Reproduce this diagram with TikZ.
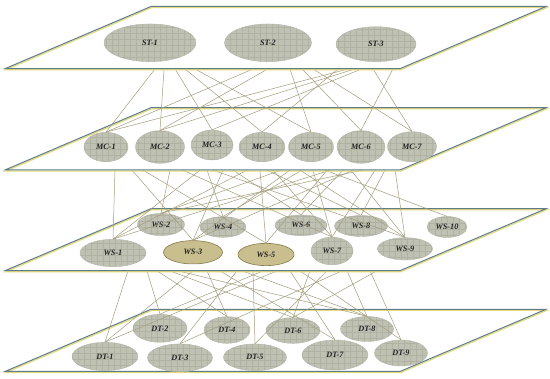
\documentclass[tikz,border=0pt]{standalone}
\usepackage{fontspec}
\setmainfont{Liberation Serif}
\usetikzlibrary{shapes.geometric}
\definecolor{ellfill}{HTML}{BFC1B3}
\definecolor{ellgrid}{HTML}{B0B2A4}
\definecolor{ellborder}{HTML}{B5B7A9}
\definecolor{olivefill}{HTML}{C9BF8E}
\definecolor{oliveborder}{HTML}{857A48}
\definecolor{edgeblue}{HTML}{5F7B8C}
\definecolor{edgeyellow}{HTML}{E3DC7A}
\definecolor{linkc}{HTML}{A39D7C}
\definecolor{labelc}{HTML}{222222}
\pgfdeclarelayer{p4}
\pgfdeclarelayer{k3}
\pgfdeclarelayer{p3}
\pgfdeclarelayer{k2}
\pgfdeclarelayer{p2}
\pgfdeclarelayer{k1}
\pgfdeclarelayer{p1}
\pgfsetlayers{p4,k3,p3,k2,p2,k1,p1,main}
\tikzset{
  ellbase/.style={ellipse, inner sep=0pt, text=labelc,
    font=\fontsize{8.2}{9}\selectfont\bfseries\itshape},
  ell/.style={ellbase, fill=ellfill, draw=ellborder, line width=0.4pt,
    path picture={\draw[ellgrid, line width=0.35pt]
      (path picture bounding box.south west) grid[step=6pt]
      (path picture bounding box.north east);}},
  oliveell/.style={ellbase, fill=olivefill, draw=oliveborder, line width=0.6pt},
  lnk/.style={draw=linkc, line width=0.5pt},
  planeblue/.style={draw=edgeblue, line width=1pt},
  planeyellow/.style={draw=edgeyellow, line width=1.2pt},
}
\newcommand\myplane[2]{%
  \fill[white] (5,#2) -- (400,#2) -- (546,#1) -- (151,#1) -- cycle;
  \draw[planeyellow, shift={(0.6,1.1)}] (5,#2) -- (400,#2) -- (546,#1) -- (151,#1) -- cycle;
  \draw[planeblue] (5,#2) -- (400,#2) -- (546,#1) -- (151,#1) -- cycle;}
\newcommand\mylink[3]{\draw[lnk] ([xshift=#2pt]#1.south) -- (#3.north);}
\begin{document}
\begin{tikzpicture}[x=1pt,y=-1pt]
\useasboundingbox (0,0) rectangle (550,379);
% ---------- bottom plane: DT ----------
\begin{pgfonlayer}{p4}
\fill[white] (0,0) rectangle (550,379);
\myplane{309.3}{371.5}
\node[ell, minimum width=66pt, minimum height=28.3pt] (dt1) at (105,356.5) {DT-1};
\node[ell, minimum width=54pt, minimum height=28pt] (dt2) at (160,328.3) {DT-2};
\node[ell, minimum width=65pt, minimum height=27.7pt] (dt3) at (180,357.8) {DT-3};
\node[ell, minimum width=46pt, minimum height=26.7pt] (dt4) at (227,330) {DT-4};
\node[ell, minimum width=63pt, minimum height=26.7pt] (dt5) at (255,357.3) {DT-5};
\node[ell, minimum width=54pt, minimum height=25.7pt] (dt6) at (293,330.5) {DT-6};
\node[ell, minimum width=66pt, minimum height=30pt] (dt7) at (335,355) {DT-7};
\node[ell, minimum width=53pt, minimum height=25pt] (dt8) at (367,329) {DT-8};
\node[ell, minimum width=53pt, minimum height=26pt] (dt9) at (401,353) {DT-9};
\end{pgfonlayer}
% ---------- plane: WS ----------
\begin{pgfonlayer}{p3}
\myplane{208.7}{270.7}
\node[ell, minimum width=66pt, minimum height=27.3pt] (ws1) at (113,253) {WS-1};
\node[ell, minimum width=47pt, minimum height=22.3pt] (ws2) at (161,224.5) {WS-2};
\node[oliveell, minimum width=59pt, minimum height=23.3pt] (ws3) at (193,252.3) {WS-3};
\node[ell, minimum width=46pt, minimum height=20.7pt] (ws4) at (223,227) {WS-4};
\node[oliveell, minimum width=56pt, minimum height=22.3pt] (ws5) at (266,254.5) {WS-5};
\node[ell, minimum width=52pt, minimum height=20.7pt] (ws6) at (301,225.3) {WS-6};
\node[ell, minimum width=42pt, minimum height=27.7pt] (ws7) at (332,251) {WS-7};
\node[ell, minimum width=53pt, minimum height=21pt] (ws8) at (361,226) {WS-8};
\node[ell, minimum width=55pt, minimum height=22.3pt] (ws9) at (405,248.8) {WS-9};
\node[ell, minimum width=40pt, minimum height=21pt] (ws10) at (447,227) {WS-10};
\end{pgfonlayer}
% ---------- plane: MC ----------
\begin{pgfonlayer}{p2}
\myplane{107.7}{170}
\node[ell, minimum width=44pt, minimum height=29.4pt] (mc1) at (106,147) {MC-1};
\node[ell, minimum width=49pt, minimum height=32.7pt] (mc2) at (160,147) {MC-2};
\node[ell, minimum width=42pt, minimum height=30pt] (mc3) at (212,145) {MC-3};
\node[ell, minimum width=46pt, minimum height=29.4pt] (mc4) at (262,147) {MC-4};
\node[ell, minimum width=45pt, minimum height=29.4pt] (mc5) at (311,147) {MC-5};
\node[ell, minimum width=48pt, minimum height=32.7pt] (mc6) at (361,147) {MC-6};
\node[ell, minimum width=49pt, minimum height=30pt] (mc7) at (412,146.7) {MC-7};
\end{pgfonlayer}
% ---------- top plane: ST ----------
\begin{pgfonlayer}{p1}
\myplane{6.5}{68.7}
\node[ell, minimum width=92pt, minimum height=37.7pt] (st1) at (150,42.8) {ST-1};
\node[ell, minimum width=87pt, minimum height=37.7pt] (st2) at (268,42.8) {ST-2};
\node[ell, minimum width=80pt, minimum height=35pt] (st3) at (376,44.2) {ST-3};
\end{pgfonlayer}
% ---------- links ST -> MC ----------
\begin{pgfonlayer}{k1}
\mylink{st1}{10.5}{mc1}
\mylink{st1}{14.5}{mc2}
\mylink{st1}{20.8}{mc3}
\mylink{st1}{26.3}{mc4}
\mylink{st1}{31.9}{mc5}
\mylink{st2}{1.6}{mc1}
\mylink{st2}{12.2}{mc2}
\mylink{st2}{19.6}{mc5}
\mylink{st2}{27.3}{mc6}
\mylink{st2}{33.8}{mc7}
\mylink{st3}{-0.7}{mc1}
\mylink{st3}{1}{mc2}
\mylink{st3}{3}{mc3}
\mylink{st3}{-29.4}{mc4}
\mylink{st3}{-7.4}{mc7}
\mylink{st3}{20.6}{mc6}
\end{pgfonlayer}
% ---------- links MC -> WS ----------
\begin{pgfonlayer}{k2}
\mylink{mc1}{9.2}{ws1}
\mylink{mc1}{18.9}{ws3}
\mylink{mc1}{23.1}{ws5}
\mylink{mc2}{11.4}{ws2}
\mylink{mc2}{8.1}{ws7}
\mylink{mc3}{0.5}{ws1}
\mylink{mc3}{-8.4}{ws4}
\mylink{mc3}{-27.4}{ws9}
\mylink{mc3}{15.2}{ws3}
\mylink{mc3}{5.9}{ws6}
\mylink{mc4}{1.1}{ws1}
\mylink{mc4}{-2.7}{ws5}
\mylink{mc4}{-12.1}{ws8}
\mylink{mc4}{3.7}{ws7}
\mylink{mc5}{-7}{ws2}
\mylink{mc5}{-9.6}{ws3}
\mylink{mc5}{-23.9}{ws9}
\mylink{mc5}{5}{ws4}
\mylink{mc5}{-0.4}{ws7}
\mylink{mc5}{-7.7}{ws10}
\mylink{mc6}{-10}{ws1}
\mylink{mc6}{-28.4}{ws5}
\mylink{mc6}{-11.7}{ws6}
\mylink{mc6}{-15.4}{ws9}
\mylink{mc6}{7.2}{ws3}
\mylink{mc6}{18.3}{ws7}
\mylink{mc7}{-11.4}{ws2}
\mylink{mc7}{-22.6}{ws8}
\mylink{mc7}{-18.2}{ws9}
\end{pgfonlayer}
% ---------- links WS -> DT ----------
\begin{pgfonlayer}{k3}
\mylink{ws1}{16.3}{dt1}
\mylink{ws1}{32.8}{dt2}
\mylink{ws1}{37.9}{dt4}
\mylink{ws3}{-40.6}{dt6}
\mylink{ws3}{-42.6}{dt8}
\mylink{ws3}{8.3}{dt1}
\mylink{ws3}{11.1}{dt4}
\mylink{ws3}{15.9}{dt7}
\mylink{ws5}{-25.1}{dt3}
\mylink{ws5}{-37.6}{dt8}
\mylink{ws5}{-13.1}{dt5}
\mylink{ws5}{8.8}{dt2}
\mylink{ws5}{23}{dt1}
\mylink{ws7}{-45.8}{dt7}
\mylink{ws7}{-40.5}{dt9}
\mylink{ws7}{-19.9}{dt6}
\mylink{ws7}{0.7}{dt5}
\mylink{ws7}{22.8}{dt3}
\mylink{ws7}{12.5}{dt8}
\mylink{ws9}{-39.8}{dt9}
\mylink{ws9}{-8.8}{dt6}
\end{pgfonlayer}
\end{tikzpicture}
\end{document}
